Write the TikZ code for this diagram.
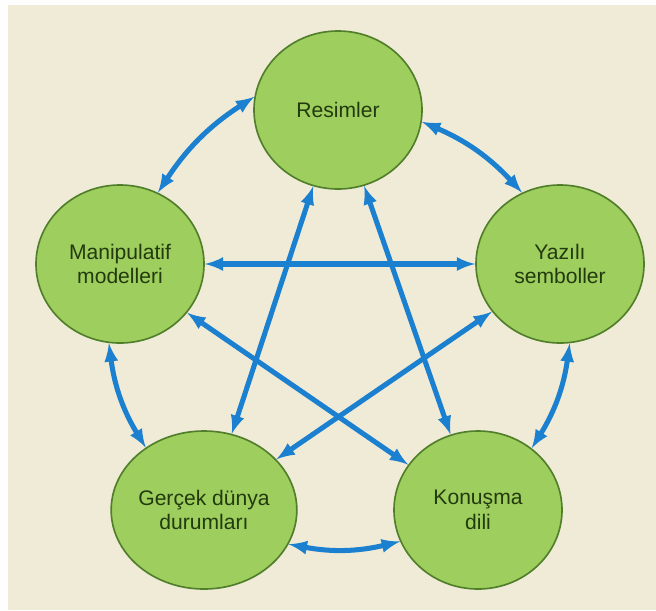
\documentclass[tikz,border=0pt]{standalone}
\usepackage{fontspec}
\setmainfont{Liberation Sans}
\usepackage{tikz}
\usetikzlibrary{shapes.geometric, % pour les ellipses
           arrows}
\definecolor{papier}{RGB}{240,235,214}
\definecolor{vert}{RGB}{158,206,94}
\definecolor{vertfonce}{RGB}{80,126,42}
\definecolor{texte}{RGB}{34,58,14}
\definecolor{bleu}{RGB}{28,128,208}
\tikzset{
  rond/.style={ellipse,draw=vertfonce,line width=1.4pt,fill=vert,
    minimum width=5.04cm,minimum height=4.74cm,inner sep=0pt,
    align=center,text=texte,font=\fontsize{18}{21}\selectfont},
  lien/.style={bleu,line width=4.3pt,latex-latex}
}

\begin{document}
\begin{tikzpicture}[x=0.03cm,y=-0.03cm]
\fill[white!97!papier] (0,0) rectangle (656,610);
\fill[papier] (8,5) rectangle (656,610);
\useasboundingbox (0,0) rectangle (656,610);
% les cinq cercles
\node[rond] (R) at (338,110) {Resimler};
\node[rond] (M) at (120,264) {Manipulatif\\modelleri};
\node[rond] (Y) at (560,264) {Yazılı\\semboller};
\node[rond] (G) at (204,510) {Gerçek dünya\\durumları};
\node[rond] (K) at (478,510) {Konuşma\\dili};
% le tour du pentagone
\foreach \a/\b/\p/\q in {R/Y/352/118, Y/K/277/49, K/G/202/338, G/M/133/262, M/R/62/171}
    \draw[lien] (\a.\p) to [bend left=12] (\b.\q);
% l'etoile
\foreach \a/\b/\p/\q in {R/G/252/70, R/K/289/110, M/Y/0/180, M/K/-36/147, Y/G/215/35}
    \draw[lien] (\a.\p) -- (\b.\q);
\end{tikzpicture}
\end{document}
